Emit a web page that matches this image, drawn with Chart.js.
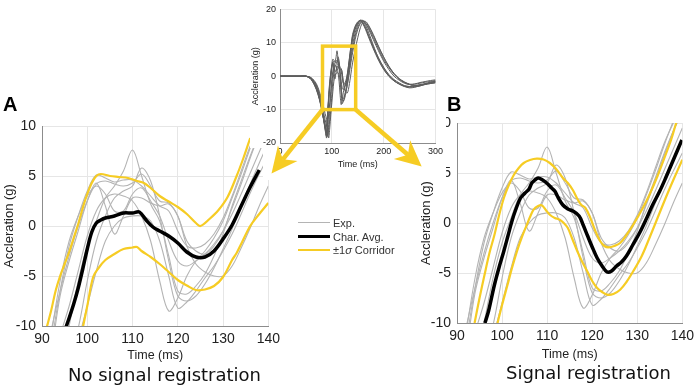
<!DOCTYPE html>
<html>
<head>
<meta charset="utf-8">
<script src="https://cdn.jsdelivr.net/npm/chart.js@4.4.1/dist/chart.umd.min.js"></script>
<style>
  body { margin: 0; background: #fff; width: 699px; height: 387px; overflow: hidden; position: relative;
         font-family: "Liberation Sans", Arial, sans-serif; }
  canvas { position: absolute; }
  .letter { position: absolute; font-weight: bold; font-size: 20px; line-height: 20px; color: #000; }
  .caption { position: absolute; font-family: "DejaVu Sans", sans-serif; font-size: 18px; line-height: 20px; color: #111; white-space: nowrap; }
  .leg { position: absolute; left: 298px; height: 12px; font-size: 11px; line-height: 12px; color: #333; white-space: nowrap; }
  .leg span.ln { position: absolute; left: 0; top: 5px; width: 32px; }
  .leg span.tx { position: absolute; left: 35px; top: 0; }
</style>
</head>
<body>
<canvas id="chartA" width="285" height="280" style="left:0;top:90px"></canvas>
<canvas id="chartB" width="284" height="280" style="left:415px;top:90px"></canvas>
<canvas id="inset" width="196" height="187" style="left:250px;top:0"></canvas>

<div class="letter" style="left:3px;top:94px">A</div>
<div class="letter" style="left:447px;top:94px">B</div>
<div class="caption" style="left:68px;top:365px">No signal registration</div>
<div class="caption" style="left:506px;top:363px">Signal registration</div>

<div class="leg" style="top:217px"><span class="ln" style="border-top:1.5px solid #b4b4b4"></span><span class="tx">Exp.</span></div>
<div class="leg" style="top:231px"><span class="ln" style="border-top:3.5px solid #000;top:4px"></span><span class="tx">Char. Avg.</span></div>
<div class="leg" style="top:244px"><span class="ln" style="border-top:2px solid #f6cc24"></span><span class="tx">±1<i>σ</i> Corridor</span></div>

<script>
document.addEventListener('DOMContentLoaded', () => {

// --- tiempo común de las curvas experimentales (ms) ---
const time = [90,92,94,96,98,100,102,104,106,108,110,112,114,116,118,120,122,124,126,128,130,132,134,136,138,140];

// curvas experimentales (g)
const exp1 = [-18,-12,-6.5,-2,1.0,3.5,5.1,4.8,4.4,4.6,4.6,4.0,3.0,2.0,1.5,-0.5,-2.0,-2.2,-1.8,-0.8,0.8,3.0,5.5,8.0,10.0,12.0];
const exp2 = [-18.5,-13,-7,-3.5,-0.5,2.5,4.3,2.0,-0.8,1.0,2.8,2.8,2.3,2.0,2.2,1.0,-2.0,-3.8,-4.6,-5.0,-5.0,-4.0,-2.2,-0.2,2.0,4.0];
const exp3 = [-17,-11,-5.5,-1.5,1.0,3.0,4.0,3.2,1.5,1.5,3.2,3.8,2.5,1.0,-1.5,-3.5,-4.0,-3.5,-2.8,-1.8,-0.5,1.2,3.2,5.3,7.4,9.5];
const exp4 = [-17,-18,-14.5,-10,-5.5,-2.0,0.5,2.8,4.0,5.5,7.6,5.0,2.2,0.5,-3.0,-6.5,-6.8,-6.0,-4.8,-3.0,-0.8,2.0,4.5,7.0,9.2,11.0];
const exp5 = [-15,-17.5,-16,-13,-10.2,-5.5,-1.5,1.0,2.8,3.5,4.0,5.8,4.5,1.0,-3.5,-7.0,-7.5,-7.0,-5.8,-4.2,-2.3,-0.3,2.0,4.2,6.3,8.3];
const exp6 = [-18,-15,-11,-8.0,-4.5,-1.0,1.5,2.8,3.2,3.0,2.5,1.0,-1.5,-5.5,-8.5,-7.2,-5.0,-3.5,-2.5,-1.2,0.5,2.8,5.2,7.8,10.2,12.5];
const exp7 = [-13,-16.5,-18.5,-15.5,-11.5,-8.0,-4.5,-1.5,0.0,0.8,1.0,1.0,0.5,-1.5,-5.0,-8.2,-7.6,-6.5,-5.2,-4.0,-2.5,-0.8,1.2,3.3,5.2,7.0];
const exp8 = [-15,-10.5,-6.5,-3.0,0.0,2.5,4.2,4.5,4.2,4.0,4.3,5.2,4.0,2.5,2.3,1.0,-1.5,-2.5,-2.8,-2.0,-0.5,1.8,4.2,6.8,9.2,11.5];
const expCurves = [exp1, exp2, exp3, exp4, exp5, exp6, exp7, exp8];

// --- A: sin registro ---
const avgTimeA = [95,96,97,98,99,100,101,102,103,104,106,108,110,111.5,113,114.5,116,118,120,122,124,126,128,130,132,134,136,138];
const avgA     = [-10.5,-9.2,-7.8,-6.2,-4.3,-2.3,-0.6,0.3,0.6,0.8,1.0,1.3,1.3,1.4,0.6,-0.1,-0.5,-1.0,-1.7,-2.6,-3.1,-3.1,-2.5,-1.3,0.1,2.0,3.9,5.6];
const upTimeA  = [91,92,93,94,95,96,97,98,99,100,101,102,103,105,107,109,111,112.5,114,116,118,120,122,124,125,127,129,131,133,134.5,136];
const upA      = [-10.2,-8.5,-6.5,-5,-3.8,-2.6,-1.2,0.2,1.8,3.2,4.3,5.0,5.2,5.0,4.9,4.8,4.5,4.3,3.8,3.0,2.45,1.9,1.2,0.3,0.0,0.7,1.6,2.9,5.0,6.8,8.8];
const loTimeA  = [99,100,101.3,102.5,104,106,108,110,111,112,114,116,118,120,122,124,126,128,130,132,133,134,136,138,140];
const loA      = [-10.2,-8,-5.1,-4.2,-3.4,-2.8,-2.3,-2.15,-2.1,-2.5,-3.1,-3.8,-4.6,-5.4,-5.95,-6.4,-6.35,-6.0,-5.1,-3.4,-2.7,-1.8,0.0,1.2,2.3];

// --- B: con registro ---
const avgTimeB = [96.2,97,98.3,99.3,100.4,101.3,102.2,103,104.1,105.1,106,106.6,107.3,108,109,109.9,111,111.7,112.5,113.5,114.6,115.7,117.1,118,118.9,120,121.1,122.2,123.3,124.3,125.4,126.5,127.6,129,130.5,132,133.4,135,136.3,138,139.9];
const avgB     = [-10,-8.8,-6.2,-4.5,-2.8,-1.3,0.2,1.3,2.5,3.0,3.4,4.0,4.3,4.5,4.3,4.0,3.5,3.2,2.5,1.8,1.4,1.2,0.7,-0.2,-1.2,-2.4,-3.5,-4.3,-4.9,-4.8,-4.3,-3.9,-3.3,-2.2,-1.0,0.4,1.8,3.2,4.5,6.3,8.3];
const upTimeB  = [93.9,95,96.1,97.2,98.3,99.3,100.4,101.5,102.6,103.7,104.8,106.2,107.7,109.2,110.6,112,113.5,114.6,115.7,116.6,117.5,118.5,119.6,120.7,121.8,122.7,123.6,124.9,126.2,127.6,129.1,131,132.7,134.5,136.3,137.5,138.5,139];
const upB      = [-10,-7.5,-5.2,-3.0,-1.2,0.7,2.5,3.8,4.8,5.5,6.0,6.3,6.43,6.35,6.0,5.4,4.5,4.0,3.3,2.5,1.85,1.5,0.5,-0.8,-1.83,-2.3,-2.43,-2.3,-2.0,-1.2,-0.17,1.3,2.83,4.7,6.83,8.3,9.8,10.5];
const loTimeB  = [99,100,101.2,102.2,103.3,104.4,105.5,106.2,107,108,108.8,109.7,110.6,111.7,112.8,113.7,114.6,115.6,116.7,117.8,118.9,120,121.1,122.2,123.3,124.7,126.2,127.6,129.1,131,132.7,134.5,136.3,138,140];
const loB      = [-10,-8.2,-6.2,-4.5,-2.83,-1.4,-0.17,0.6,1.33,1.7,1.77,1.3,0.83,0.5,0.33,0.0,-0.5,-1.6,-2.83,-3.9,-4.83,-5.8,-6.5,-6.9,-7.17,-7.1,-6.67,-5.9,-4.83,-3.3,-1.5,0.5,2.5,4.3,6.33];

// --- recuadro: señal completa 0-300 ms ---
const preTime  = [0,40,50,60,70,76,80,84,87];
const insetPre = [
  [0,0,0,-0.8,-3.5,-6.5,-9.0,-12.5,-15.5],
  [0,0,0,-0.6,-3.2,-6.2,-9.0,-12.8,-16.0],
  [0,0,0,-0.9,-3.8,-6.8,-9.5,-12.8,-15.0],
  [0,0,0,-0.6,-3.0,-5.8,-8.5,-12.0,-14.5],
  [0,0,0,-0.5,-2.6,-5.2,-7.6,-10.8,-13.0],
  [0,0,0,-0.8,-3.6,-6.6,-9.3,-12.8,-15.6],
  [0,0,0,-0.4,-2.2,-4.6,-6.8,-9.2,-11.2],
  [0,0,0,-1.0,-4.0,-7.0,-9.8,-12.8,-14.5]
];
const postTime  = [145,150,155,160,165,170,180,190,200,210,220,230,240,250,260,270,280,290,300];
const insetPost = [
  [14.5,16.0,16.8,16.5,15.3,13.5,9.3,5.4,2.5,0.3,-1.2,-2.3,-3.0,-3.3,-3.0,-2.7,-2.4,-2.0,-1.6],
  [8.0,11.5,14.5,16.2,16.4,15.5,12.5,9.0,5.8,3.0,0.8,-0.8,-1.8,-2.5,-3.0,-2.9,-2.5,-2.2,-2.0],
  [13.0,15.3,16.5,16.7,15.8,14.4,11.0,7.6,4.5,2.0,0.0,-1.2,-2.1,-2.5,-2.4,-2.1,-1.8,-1.6,-1.3],
  [14.0,15.8,16.6,16.0,14.6,12.6,8.6,5.0,2.2,0.0,-1.4,-2.4,-3.1,-3.5,-3.3,-2.8,-2.3,-2.1,-1.8],
  [12.0,14.6,16.0,16.4,15.8,14.7,11.6,8.2,5.0,2.6,0.6,-0.9,-1.9,-2.4,-2.3,-1.9,-1.6,-1.3,-1.1],
  [15.0,16.3,16.6,15.6,14.0,12.0,8.2,4.8,2.0,0.0,-1.4,-2.3,-2.9,-3.1,-3.2,-2.9,-2.4,-1.9,-1.5],
  [11.0,14.0,15.8,16.6,16.2,15.2,12.2,8.8,5.6,2.9,0.8,-0.7,-1.7,-2.4,-2.8,-2.7,-2.4,-2.2,-1.9],
  [14.5,16.0,16.7,15.9,14.4,12.5,8.8,5.5,2.7,0.5,-1.0,-2.0,-2.8,-3.1,-2.8,-2.5,-2.2,-1.8,-1.6]
];
const zoomBox = [82, 146, -10, 9]; // t0, t1, aMin, aMax

const YELLOW = '#f6cc24';
const GRAY = '#b4b4b4';
const TEXT = '#222';

Chart.defaults.font.family = '"Liberation Sans", Arial, sans-serif';

const pts = (xs, ys) => xs.map((x, i) => ({ x: x, y: ys[i] }));

function panelConfig(avgT, avg, upT, up, loT, lo, opts) {
    const datasets = [
        { label: 'Char. Avg.', data: pts(avgT, avg), borderColor: '#000', borderWidth: 3.5 },
        { label: '±1σ Corridor', data: pts(upT, up), borderColor: YELLOW, borderWidth: 2.2 },
        { label: '±1σ Corridor', data: pts(loT, lo), borderColor: YELLOW, borderWidth: 2.2 }
    ].concat(expCurves.map(c => ({ label: 'Exp.', data: pts(time, c), borderColor: GRAY, borderWidth: 1.1 })));

    return {
        type: 'line',
        data: { datasets: datasets },
        options: {
            responsive: false,
            animation: false,
            layout: { padding: opts.padding },
            elements: { point: { radius: 0 }, line: { tension: 0.35 } },
            plugins: { legend: { display: false }, tooltip: { enabled: false } },
            scales: {
                x: {
                    type: 'linear', min: 90, max: 140,
                    ticks: { stepSize: 10, font: { size: 14 }, color: TEXT, padding: 5 },
                    grid: { color: '#e6e6e6', drawTicks: false },
                    border: { color: '#8c8c8c' },
                    title: { display: true, text: 'Time (ms)', font: { size: 12.5 }, color: TEXT, padding: 0 },
                    afterFit: s => { s.height = opts.xh; }
                },
                y: {
                    min: -10, max: 10,
                    ticks: { stepSize: 5, font: { size: 14 }, color: TEXT, padding: 6 },
                    grid: { color: '#e6e6e6', drawTicks: false },
                    border: { color: '#8c8c8c' },
                    title: { display: true, text: 'Accleration (g)', font: { size: 13 }, color: TEXT, padding: 0 },
                    afterFit: s => { s.width = opts.yw; }
                }
            }
        }
    };
}

new Chart(document.getElementById('chartA'),
    panelConfig(avgTimeA, avgA, upTimeA, upA, loTimeA, loA,
        { padding: { left: 2, right: 16, top: 36, bottom: 6.5 }, xh: 37.5, yw: 40 }));

new Chart(document.getElementById('chartB'),
    panelConfig(avgTimeB, avgB, upTimeB, upB, loTimeB, loB,
        { padding: { left: 4, right: 12, top: 33, bottom: 7.5 }, xh: 39.5, yw: 38 }));

// --- flecha amarilla ---
function arrow(ctx, x0, y0, x1, y1) {
    const dx = x1 - x0, dy = y1 - y0, len = Math.hypot(dx, dy);
    const ux = dx / len, uy = dy / len, nx = -uy, ny = ux;
    const L = 26, W = 12.5;
    ctx.beginPath();
    ctx.moveTo(x0, y0);
    ctx.lineTo(x1 - ux * L * 0.7, y1 - uy * L * 0.7);
    ctx.stroke();
    ctx.beginPath();
    ctx.moveTo(x1, y1);
    ctx.lineTo(x1 - ux * L + nx * W, y1 - uy * L + ny * W);
    ctx.lineTo(x1 - ux * L * 0.7, y1 - uy * L * 0.7);
    ctx.lineTo(x1 - ux * L - nx * W, y1 - uy * L - ny * W);
    ctx.closePath();
    ctx.fill();
}

const insetDecor = {
    id: 'insetDecor',
    beforeDraw(chart) {
        const ctx = chart.ctx;
        ctx.save();
        ctx.fillStyle = '#fff';
        ctx.fillRect(0, 0, chart.width, 148);
        ctx.fillRect(13, 148, chart.width - 13, 32);
        ctx.restore();
    },
    afterDraw(chart) {
        const { x, y } = chart.scales;
        const ctx = chart.ctx;
        const l = x.getPixelForValue(zoomBox[0]), r = x.getPixelForValue(zoomBox[1]);
        const b = y.getPixelForValue(zoomBox[2]), t = y.getPixelForValue(zoomBox[3]);
        ctx.save();
        ctx.strokeStyle = YELLOW;
        ctx.fillStyle = YELLOW;
        ctx.lineWidth = 3.5;
        ctx.strokeRect(l, t, r - l, b - t);
        ctx.lineWidth = 4.5;
        arrow(ctx, l, b, l - 51, b + 64);
        arrow(ctx, r, b, r + 66, b + 57);
        ctx.restore();
    }
};

const insetTime = preTime.concat(time, postTime);

new Chart(document.getElementById('inset'), {
    type: 'line',
    data: {
        datasets: expCurves.map((c, i) => ({
            label: 'Exp.',
            data: pts(insetTime, insetPre[i].concat(c, insetPost[i])),
            borderColor: '#5e5e5e',
            borderWidth: 1
        }))
    },
    options: {
        responsive: false,
        animation: false,
        layout: { padding: { left: 0, right: 9, top: 5, bottom: 16.6 } },
        elements: { point: { radius: 0 }, line: { tension: 0.3 } },
        plugins: { legend: { display: false }, tooltip: { enabled: false } },
        scales: {
            x: {
                type: 'linear', min: 0, max: 300,
                ticks: { stepSize: 100, font: { size: 9 }, color: TEXT, padding: 3 },
                grid: { color: '#e6e6e6', drawTicks: false },
                border: { color: '#8c8c8c' },
                title: { display: true, text: 'Time (ms)', font: { size: 9 }, color: TEXT, padding: 0 },
                afterFit: s => { s.height = 27.4; }
            },
            y: {
                min: -20, max: 20,
                ticks: { stepSize: 10, font: { size: 9 }, color: TEXT, padding: 4 },
                grid: { color: '#e6e6e6', drawTicks: false },
                border: { color: '#8c8c8c' },
                title: { display: true, text: 'Accleration (g)', font: { size: 9 }, color: TEXT, padding: { top: 0, bottom: 1.6 } },
                afterFit: s => { s.width = 30; }
            }
        }
    },
    plugins: [insetDecor]
});

});
</script>
</body>
</html>
